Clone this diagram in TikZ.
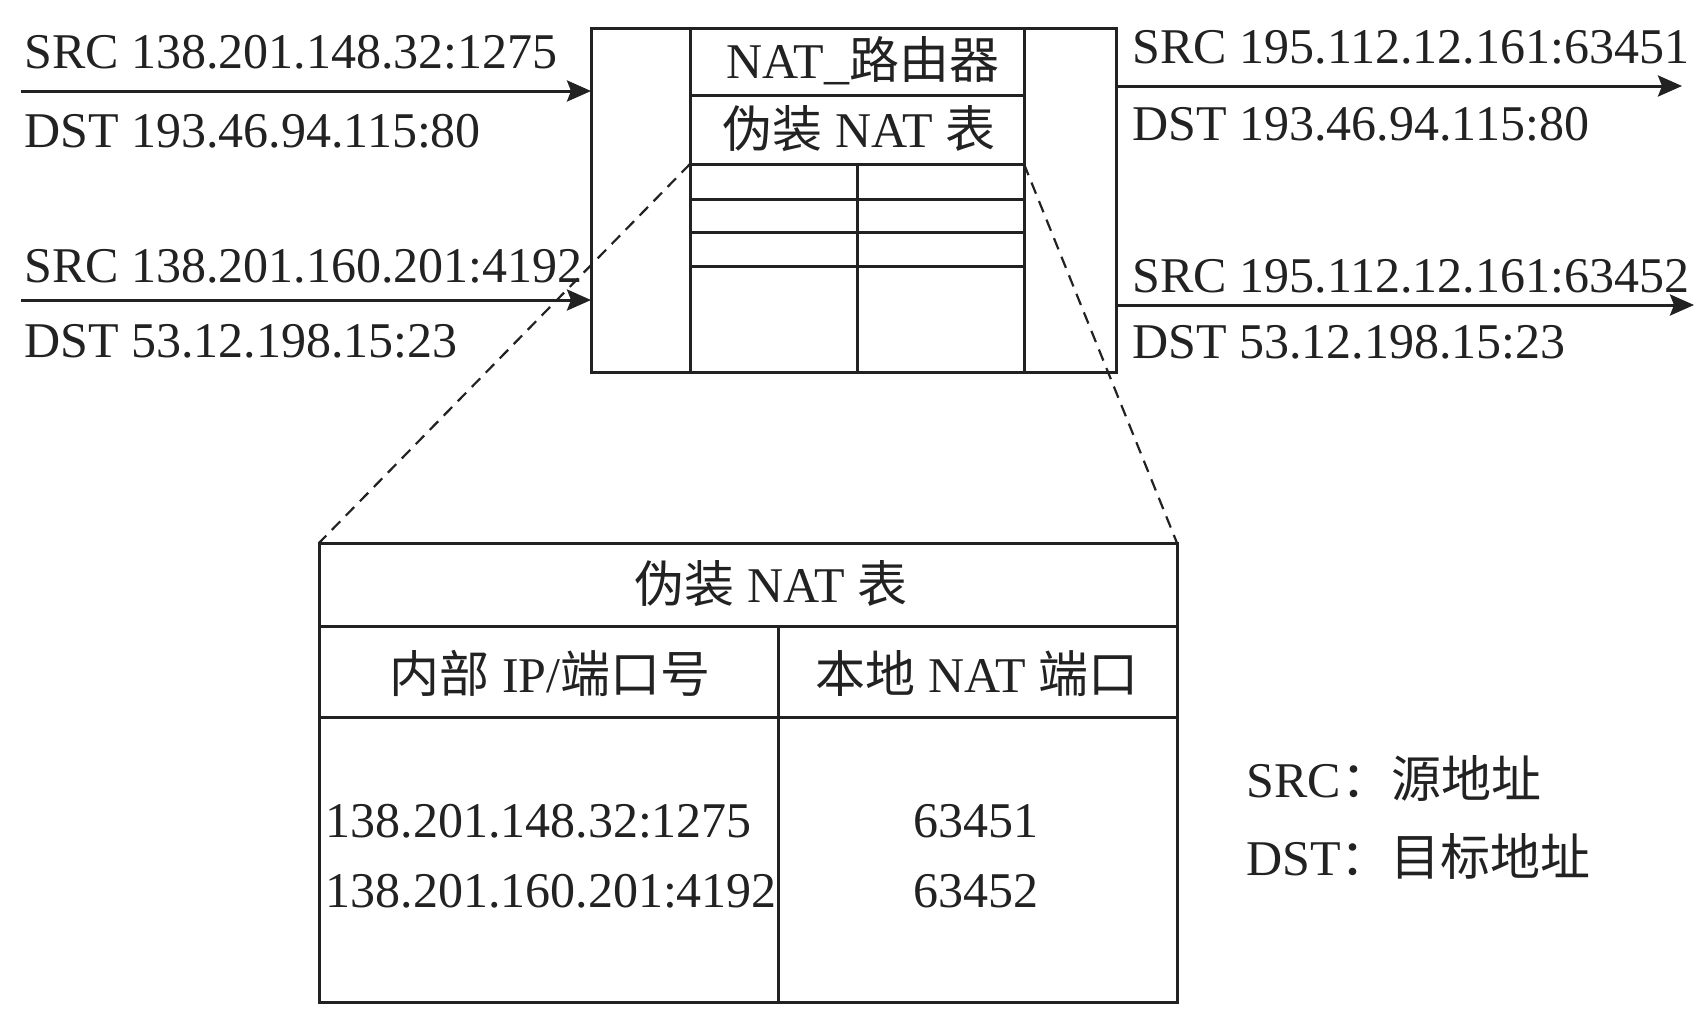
\documentclass[tikz,border=0pt]{standalone}
\usepackage{fontspec}
\setmainfont{Liberation Serif}
\newfontfamily\cjk{Noto Sans CJK SC}
\usetikzlibrary{arrows.meta}
\definecolor{ink}{HTML}{222222}
\begin{document}
\begin{tikzpicture}[x=0.5pt,y=-0.5pt,
  line width=1.5pt, draw=ink,
  every node/.style={inner sep=0pt, text=ink, font=\fontsize{25}{30}\selectfont},
  lw/.style={anchor=base west},
  lc/.style={anchor=base},
  flow/.style={draw=ink, line width=1.5pt, -{Stealth[length=12pt,width=10.5pt,inset=2pt]}},
  zoomline/.style={draw=ink, line width=1.1pt, dash pattern=on 6pt off 4pt}]
\fill[white] (0,0) rectangle (1704,1014);
\useasboundingbox (0,0) rectangle (1704,1014);

% router box
\coordinate (rNW) at (591,28);
\coordinate (rSE) at (1116,372);
\draw (rNW) rectangle (rSE);
\draw (690,28) -- (690,372);
\draw (1024,28) -- (1024,372);
\draw (690,95) -- (1024,95);
\draw (690,164) -- (1024,164);
\draw (690,199) -- (1024,199);
\draw (690,232) -- (1024,232);
\draw (690,266) -- (1024,266);
\draw (857,164) -- (857,372);
\coordinate (tNW) at (690,164);
\coordinate (tNE) at (1024,164);

\node[lc] (rtitle) at (863,78) {NAT\_{\cjk 路由器}};
\node[lc] (rtable) at (859,147) {{\cjk 伪装} NAT {\cjk 表}};

% incoming
\coordinate (in1) at (21,91);
\coordinate (in1e) at (591,91);
\coordinate (in2) at (21,300);
\coordinate (in2e) at (591,300);
\draw[flow] (in1) -- (in1e);
\draw[flow] (in2) -- (in2e);
\node[lw] (s1) at (23,68) {SRC 138.201.148.32:1275};
\node[lw] (d1) at (23,147) {DST 193.46.94.115:80};
\node[lw] (s2) at (23,282) {SRC 138.201.160.201:4192};
\node[lw] (d2) at (23,357) {DST 53.12.198.15:23};

% outgoing
\coordinate (out1s) at (1116,86);
\coordinate (out1) at (1682,86);
\coordinate (out2s) at (1116,305);
\coordinate (out2) at (1694,305);
\draw[flow] (out1s) -- (out1);
\draw[flow] (out2s) -- (out2);
\node[lw] (s3) at (1131,63) {SRC 195.112.12.161:63451};
\node[lw] (d3) at (1131,140) {DST 193.46.94.115:80};
\node[lw] (s4) at (1131,292) {SRC 195.112.12.161:63452};
\node[lw] (d4) at (1131,358) {DST 53.12.198.15:23};

% enlarged table
\coordinate (bNW) at (319,543);
\coordinate (bNE) at (1177,543);
\draw (bNW) rectangle (1177,1002);
\draw (319,626) -- (1177,626);
\draw (319,717) -- (1177,717);
\draw (778,626) -- (778,1002);
\draw[zoomline] (tNW) -- (bNW);
\draw[zoomline] (tNE) -- (bNE);

\node[lc] (btitle) at (771,602) {{\cjk 伪装} NAT {\cjk 表}};
\node[lc] (h1) at (550,692) {{\cjk 内部} IP/{\cjk 端口号}};
\node[lc] (h2) at (977,692) {{\cjk 本地} NAT {\cjk 端口}};
\node[lw] (a1) at (324,837) {138.201.148.32:1275};
\node[lw] (a2) at (324,907) {138.201.160.201:4192};
\node[lc] (p1) at (976,837) {63451};
\node[lc] (p2) at (976,907) {63452};

% legend
\node[lw] (lg1) at (1245,797) {SRC{\cjk ：源地址}};
\node[lw] (lg2) at (1245,875) {DST{\cjk ：目标地址}};
\end{tikzpicture}
\end{document}
